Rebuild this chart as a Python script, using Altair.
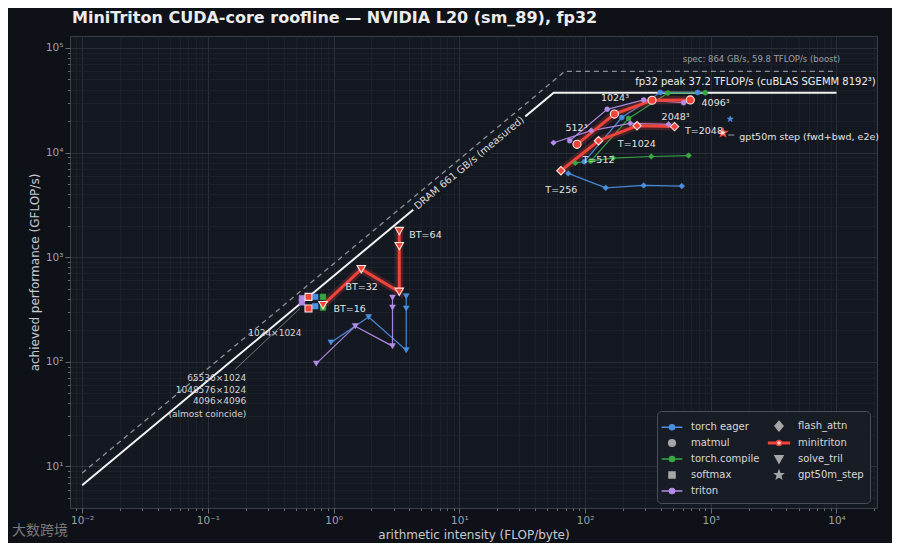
import altair as alt
import pandas as pd
import numpy as np

# ---------------- data ----------------
IMPLS = ["torch eager", "torch.compile", "triton", "minitriton"]
IMPL_COLOR = {"torch eager": "#4a8fe0", "torch.compile": "#38a845",
              "triton": "#b48ce8", "minitriton": "#f0443a"}

# roofline constants
BW_MEASURED = 661.0      # GB/s
PEAK_MEASURED = 37200.0  # GFLOP/s
BW_SPEC = 864.0
PEAK_SPEC = 59800.0
ROOF_X_MIN = 0.01
ROOF_X_MAX = 1e4

# matmul (N^3)
MATMUL_AI = {
    "triton": [75.5, 150, 292, 608],
    "minitriton": [86.3, 171, 341, 687],
    "torch eager": [98.6, 196, 396, 785],
    "torch.compile": [111, 222, 456, 904],
}
MATMUL_GFLOPS = {
    "triton": [12970, 25900, 31800, 29900],
    "minitriton": [11970, 23300, 31600, 31800],
    "torch eager": [8170, 21600, 37500, 37500],
    "torch.compile": [8290, 21200, 37000, 37300],
}
# flash attention (T = 256 .. 2048)
FA_AI = {
    "triton": [56.1, 112, 229, 461],
    "minitriton": [64.3, 128, 259, 515],
    "torch eager": [73.5, 146, 293, 588],
    "torch.compile": [83.6, 167, 336, 666],
}
FA_GFLOPS = {
    "triton": [12400, 16200, 19000, 18600],
    "minitriton": [6700, 12970, 18000, 17700],
    "torch eager": [6320, 4600, 4850, 4780],
    "torch.compile": [7950, 8850, 9160, 9360],
}
# softmax (1024x1024, large sizes)
SOFTMAX_AI = {"triton": 0.560, "minitriton": 0.631, "torch eager": 0.714, "torch.compile": 0.823}
SOFTMAX_GFLOPS = {
    "triton": [370, 405],
    "minitriton": [323, 417],
    "torch eager": [340, 417],
    "torch.compile": [330, 417],
}
# solve_tril (BT=16, BT=32, BT=64 x3)
SOLVE_AI = {
    "triton": [0.728, 1.486, 2.94, 2.94, 2.94],
    "minitriton": [0.823, 1.66, 3.33, 3.33, 3.33],
    "torch eager": [0.952, 1.90, 3.78, 3.78, 3.78],
}
SOLVE_GFLOPS = {
    "triton": [96, 219, 141, 330, 411],
    "minitriton": [348, 767, 466, 1274, 1775],
    "torch eager": [153, 268, 129, 323, 423],
}
# gpt50m step
GPT_AI = {"minitriton": 1250, "torch eager": 1429}
GPT_GFLOPS = {"minitriton": 15460, "torch eager": 20900}

# point annotations
PT_LABELS = ["T=256", "T=512", "T=1024", "T=2048", "512³", "1024³", "2048³", "4096³",
             "BT=16", "BT=32", "BT=64"]
PT_LABEL_X = [64.7, 128, 258, 883, 85.5, 173, 525, 1092, 1.34, 1.67, 5.38]
PT_LABEL_Y = [4380, 8480, 12050, 16200, 17060, 33400, 21700, 29600, 318, 513, 1625]

SM_LABEL = ["1024×1024"]
SM_LABEL_X = [0.341]
SM_LABEL_Y = [190]
SM_MULTI = ["65536×1024", "1048576×1024", "4096×4096", "(almost coincide)"]
SM_MULTI_X = [0.2018, 0.2018, 0.2018, 0.2018]
SM_MULTI_Y = [70, 54.2, 42.2, 31.9]
SM_LEADER_X = [0.165, 0.542]
SM_LEADER_Y = [84.7, 325]

# legend entries, in the reference's column-by-column order
LEGEND_ORDER = ["torch eager", "matmul", "torch.compile", "softmax", "triton",
                "flash_attn", "minitriton", "solve_tril", "gpt50m_step"]

TITLE = "MiniTriton CUDA-core roofline — NVIDIA L20 (sm_89), fp32"
WATERMARK = "大数跨境"

# ---------------- styles ----------------
FONT = "DejaVu Sans"
BG = "#0e1117"
FACE = "#141821"


def star_path(r_out=1.0, r_in=0.42):
    pts = []
    for k in range(10):
        ang = -np.pi / 2 + k * np.pi / 5
        r = r_out if k % 2 == 0 else r_in
        pts.append(f"{r*np.cos(ang):.3f},{r*np.sin(ang):.3f}")
    return "M" + "L".join(pts) + "Z"


STAR = star_path()
SHAPE = {"matmul": "circle", "softmax": "square", "flash_attn": "diamond",
         "solve_tril": "triangle-down", "gpt50m_step": STAR}
SIZE_SMALL = {"matmul": 24, "softmax": 32, "flash_attn": 32, "solve_tril": 34, "gpt50m_step": 40}
SIZE_MINI = {"matmul": 66, "softmax": 48, "flash_attn": 70, "solve_tril": 72, "gpt50m_step": 85}

rows = []


def add(impl, kernel, ais, ys, line=True):
    mini = impl == "minitriton"
    for i, (a, v) in enumerate(zip(ais, ys)):
        rows.append(dict(
            impl=impl, kernel=kernel, series=f"{impl}|{kernel}", ord=i, x=a, y=v,
            line=line, mini=mini, color=IMPL_COLOR[impl], shape=SHAPE[kernel],
            size=(SIZE_MINI if mini else SIZE_SMALL)[kernel],
            fill=("#ffd9d4" if (mini and kernel == "gpt50m_step") else IMPL_COLOR[impl]),
            stroke=(("#f0443a" if kernel == "gpt50m_step" else "#ffe8e4") if mini else IMPL_COLOR[impl]),
        ))


for impl in IMPLS:
    add(impl, "matmul", MATMUL_AI[impl], MATMUL_GFLOPS[impl])
    add(impl, "flash_attn", FA_AI[impl], FA_GFLOPS[impl])
    add(impl, "softmax", [SOFTMAX_AI[impl]] * 2, SOFTMAX_GFLOPS[impl], line=False)
    if impl in SOLVE_AI:
        add(impl, "solve_tril", SOLVE_AI[impl], SOLVE_GFLOPS[impl])
    if impl in GPT_AI:
        add(impl, "gpt50m_step", [GPT_AI[impl]], [GPT_GFLOPS[impl]], line=False)

df = pd.DataFrame(rows)
df_lines = df[df["line"]]
df_lines_other = df_lines[~df_lines["mini"]]
df_lines_mini = df_lines[df_lines["mini"]]
df_pts_other = df[~df["mini"]]
df_pts_mini = df[df["mini"]]

# roofs
ridge_m = PEAK_MEASURED / BW_MEASURED
ridge_s = PEAK_SPEC / BW_SPEC
roof_meas = pd.DataFrame({"x": [ROOF_X_MIN, ridge_m, ROOF_X_MAX],
                          "y": [BW_MEASURED * ROOF_X_MIN, PEAK_MEASURED, PEAK_MEASURED]})
roof_spec = pd.DataFrame({"x": [ROOF_X_MIN, ridge_s, ROOF_X_MAX],
                          "y": [BW_SPEC * ROOF_X_MIN, PEAK_SPEC, PEAK_SPEC]})
DRAM_BOX_X = [4.3, 33.5]
dram_box = pd.DataFrame({"x": DRAM_BOX_X, "y": [BW_MEASURED * v for v in DRAM_BOX_X]})
dram_text = pd.DataFrame({"x": [12.0], "y": [BW_MEASURED * 12.0],
                          "t": [f"DRAM {BW_MEASURED:.0f} GB/s (measured)"]})
peak_text = pd.DataFrame({"x": [2.05e4], "y": [47600],
                          "t": ["fp32 peak 37.2 TFLOP/s (cuBLAS SGEMM 8192³)"]})
spec_text = pd.DataFrame({"x": [1.07e4], "y": [78500],
                          "t": ["spec: 864 GB/s, 59.8 TFLOP/s (boost)"]})
gpt_text = pd.DataFrame({"x": [1687], "y": [14170], "t": ["gpt50m step (fwd+bwd, e2e)"]})
gpt_leader = pd.DataFrame({"x": [1377], "x2": [1538], "y": [14700]})
pt_labels = pd.DataFrame({"x": PT_LABEL_X, "y": PT_LABEL_Y, "t": PT_LABELS})
sm_label = pd.DataFrame({"x": SM_LABEL_X, "y": SM_LABEL_Y, "t": SM_LABEL})
sm_multi = pd.DataFrame({"x": SM_MULTI_X, "y": SM_MULTI_Y, "t": SM_MULTI})
sm_leader = pd.DataFrame({"x": SM_LEADER_X, "y": SM_LEADER_Y})

# ---------------- axes ----------------
MAJ = "abs(log(datum.value)/LN10 - round(log(datum.value)/LN10)) < 0.001"
SUP = {-2: "⁻²", -1: "⁻¹", 0: "⁰", 1: "¹", 2: "²", 3: "³", 4: "⁴", 5: "⁵"}
LABEL_EXPR = f"({MAJ}) ? (" + " : ".join(
    f"round(log(datum.value)/LN10) == {e} ? '10{s}'" for e, s in SUP.items()) + " : '') : ''"

XTICKS = [0.009] + [k * 10.0 ** e for e in range(-2, 4) for k in range(1, 10)] + [1e4, 2e4]
YTICKS = [5, 6, 7, 8, 9] + [k * 10.0 ** e for e in range(1, 5) for k in range(1, 10)] + [1e5]


def make_axis(values):
    return alt.Axis(
        values=values, labelExpr=LABEL_EXPR, labelOverlap=False, labelFlush=False,
        labelBound=False, domain=False,
        tickSize={"condition": {"test": MAJ, "value": 5}, "value": 2.5},
        tickColor="#7d828c", tickWidth=0.8,
        gridColor={"condition": {"test": MAJ, "value": "#2f3541"}, "value": "#1e232d"},
        gridWidth=0.8,
        labelFont=FONT, labelFontSize=10.5, labelColor="#9ca2ab", labelPadding=2,
        titleFont=FONT, titleFontSize=12, titleFontWeight="normal", titleColor="#c6cad1",
    )


XS = alt.Scale(type="log", domain=[0.008, 2.1e4], nice=False)
YS = alt.Scale(type="log", domain=[4, 1.3e5], nice=False)
X = alt.X("x:Q", scale=XS, axis=make_axis(XTICKS), title="arithmetic intensity (FLOP/byte)")
Y = alt.Y("y:Q", scale=YS, axis=make_axis(YTICKS), title="achieved performance (GFLOP/s)")

layers = []
layers.append(alt.Chart(roof_spec).mark_line(color="#8b9099", strokeWidth=1.3, strokeDash=[5, 4])
              .encode(x=X, y=Y, order="x:Q"))
layers.append(alt.Chart(roof_meas).mark_line(color="#f2f2f2", strokeWidth=2.0)
              .encode(x=X, y=Y, order="x:Q"))
layers.append(alt.Chart(dram_box).mark_line(color=FACE, strokeWidth=13, strokeCap="butt")
              .encode(x=X, y=Y))
layers.append(alt.Chart(dram_text).mark_text(font=FONT, fontSize=10, color="#dcdcdc",
                                             angle=320.26, align="center", baseline="middle")
              .encode(x=X, y=Y, text="t:N"))
layers.append(alt.Chart(peak_text).mark_text(font=FONT, fontSize=10, color="#eeeeee",
                                             align="right", baseline="middle")
              .encode(x=X, y=Y, text="t:N"))
layers.append(alt.Chart(spec_text).mark_text(font=FONT, fontSize=8.5, color="#9ba1aa",
                                             align="right", baseline="middle")
              .encode(x=X, y=Y, text="t:N"))
# series lines
layers.append(alt.Chart(df_lines_other).mark_line(strokeWidth=1.2, opacity=0.95)
              .encode(x=X, y=Y, detail="series:N", order="ord:Q",
                      color=alt.Color("color:N", scale=None)))
layers.append(alt.Chart(df_lines_mini).mark_line(strokeWidth=8, opacity=0.22, color="#f0443a")
              .encode(x=X, y=Y, detail="series:N", order="ord:Q"))
layers.append(alt.Chart(df_lines_mini).mark_line(strokeWidth=3, color="#f0443a")
              .encode(x=X, y=Y, detail="series:N", order="ord:Q"))
# points
layers.append(alt.Chart(df_pts_other).mark_point(filled=True, opacity=1, strokeWidth=0.6)
              .encode(x=X, y=Y,
                      fill=alt.Fill("fill:N", scale=None),
                      stroke=alt.Stroke("stroke:N", scale=None),
                      shape=alt.Shape("shape:N", scale=None),
                      size=alt.Size("size:Q", scale=None)))
layers.append(alt.Chart(df_pts_mini).mark_point(filled=True, opacity=1, strokeWidth=1.1)
              .encode(x=X, y=Y,
                      fill=alt.Fill("fill:N", scale=None),
                      stroke=alt.Stroke("stroke:N", scale=None),
                      shape=alt.Shape("shape:N", scale=None),
                      size=alt.Size("size:Q", scale=None)))
# annotations
layers.append(alt.Chart(pt_labels).mark_text(font=FONT, fontSize=9.5, color="#e4e4e4",
                                             align="center", baseline="middle")
              .encode(x=X, y=Y, text="t:N"))
layers.append(alt.Chart(sm_leader).mark_line(color="#8a8f98", strokeWidth=0.8)
              .encode(x=X, y=Y))
layers.append(alt.Chart(sm_label).mark_text(font=FONT, fontSize=9, color="#d4d4d4",
                                            align="center", baseline="middle")
              .encode(x=X, y=Y, text="t:N"))
layers.append(alt.Chart(sm_multi).mark_text(font=FONT, fontSize=9, color="#d4d4d4",
                                            align="right", baseline="middle")
              .encode(x=X, y=Y, text="t:N"))
layers.append(alt.Chart(gpt_leader).mark_rule(color="#9a9fa8", strokeWidth=1)
              .encode(x=X, x2="x2:Q", y=Y))
layers.append(alt.Chart(gpt_text).mark_text(font=FONT, fontSize=9.5, color="#e4e4e4",
                                            align="left", baseline="middle")
              .encode(x=X, y=Y, text="t:N"))

# legend (symbols drawn from the legend's own scales)
R = 0.32
HALF = 1.3
CIRC = f"M{-R},0A{R},{R} 0 1,1 {R},0A{R},{R} 0 1,1 {-R},0Z"
LINE_SYM = f"M{-HALF},0H{-R}M{R},0H{HALF}" + CIRC
THICK_SYM = f"M{-HALF},-0.1H{-R}V0.1H{-HALF}ZM{R},-0.1H{HALF}V0.1H{R}Z" + CIRC
C2 = 0.42
GRAY_CIRCLE = f"M{-C2},0A{C2},{C2} 0 1,1 {C2},0A{C2},{C2} 0 1,1 {-C2},0Z"
GRAY_SQUARE = "M-0.38,-0.38H0.38V0.38H-0.38Z"
GRAY_DIAMOND = "M0,-0.6L0.5,0L0,0.6L-0.5,0Z"
GRAY_TRI = "M-0.5,-0.42H0.5L0,0.5Z"
GRAY_STAR = star_path(0.5, 0.21)
GRAY = "#a6a6a6"
LEG_SHAPES = {"torch eager": LINE_SYM, "flash_attn": GRAY_DIAMOND, "matmul": GRAY_CIRCLE,
              "minitriton": THICK_SYM, "torch.compile": LINE_SYM, "solve_tril": GRAY_TRI,
              "softmax": GRAY_SQUARE, "gpt50m_step": GRAY_STAR, "triton": LINE_SYM}
LEG_FILL = {e: GRAY for e in LEGEND_ORDER}
LEG_FILL.update({"torch eager": IMPL_COLOR["torch eager"], "torch.compile": IMPL_COLOR["torch.compile"],
                 "triton": IMPL_COLOR["triton"], "minitriton": "#ffd0ca"})
LEG_STROKE = dict(LEG_FILL)
LEG_STROKE["minitriton"] = IMPL_COLOR["minitriton"]

legend_df = pd.DataFrame({"entry": LEGEND_ORDER, "x": [1.0] * 9, "y": [1.0] * 9})
legend_layer = (alt.Chart(legend_df).transform_filter("datum.x < 0")
                .mark_point(filled=True, opacity=1, strokeWidth=1.5)
                .encode(
                    x=X, y=Y,
                    fill=alt.Fill("entry:N", scale=alt.Scale(domain=LEGEND_ORDER,
                                                            range=[LEG_FILL[e] for e in LEGEND_ORDER]),
                                  legend=alt.Legend(
                                      title=None, orient="none", legendX=587, legendY=375,
                                      columns=2, columnPadding=5, rowPadding=0,
                                      padding=6, cornerRadius=4,
                                      fillColor="#181c25", strokeColor="#484e5a",
                                      labelFont=FONT, labelFontSize=10, labelColor="#d8d8d8",
                                      labelOffset=10, symbolSize=256, symbolStrokeWidth=1.5)),
                    stroke=alt.Stroke("entry:N", scale=alt.Scale(domain=LEGEND_ORDER,
                                                                range=[LEG_STROKE[e] for e in LEGEND_ORDER])),
                    shape=alt.Shape("entry:N", scale=alt.Scale(domain=LEGEND_ORDER,
                                                              range=[LEG_SHAPES[e] for e in LEGEND_ORDER])),
                ))
layers.append(legend_layer)

# watermark (kept clear of the 10⁻² tick label)
layers.append(alt.Chart(pd.DataFrame({"t": [WATERMARK]})).mark_text(
    font="Noto Sans CJK SC", fontSize=14, color="#8c8c8c", align="left", baseline="middle",
    opacity=0.85).encode(x=alt.value(-58), y=alt.value(495), text="t:N"))

chart = alt.layer(*layers).properties(
    width=807, height=472,
    padding={"left": 62, "top": 28, "right": 15, "bottom": 35},
    autosize=alt.AutoSizeParams(type="none"),
    background=BG,
    title=alt.TitleParams(TITLE, anchor="start", frame="group", font=FONT, fontSize=16,
                          fontWeight="bold", color="#ececec", offset=10, dx=2),
).configure_view(fill=FACE, stroke="#3a3f4b", strokeWidth=1)

chart.save("out.html", embed_options={"renderer": "svg", "actions": False})
